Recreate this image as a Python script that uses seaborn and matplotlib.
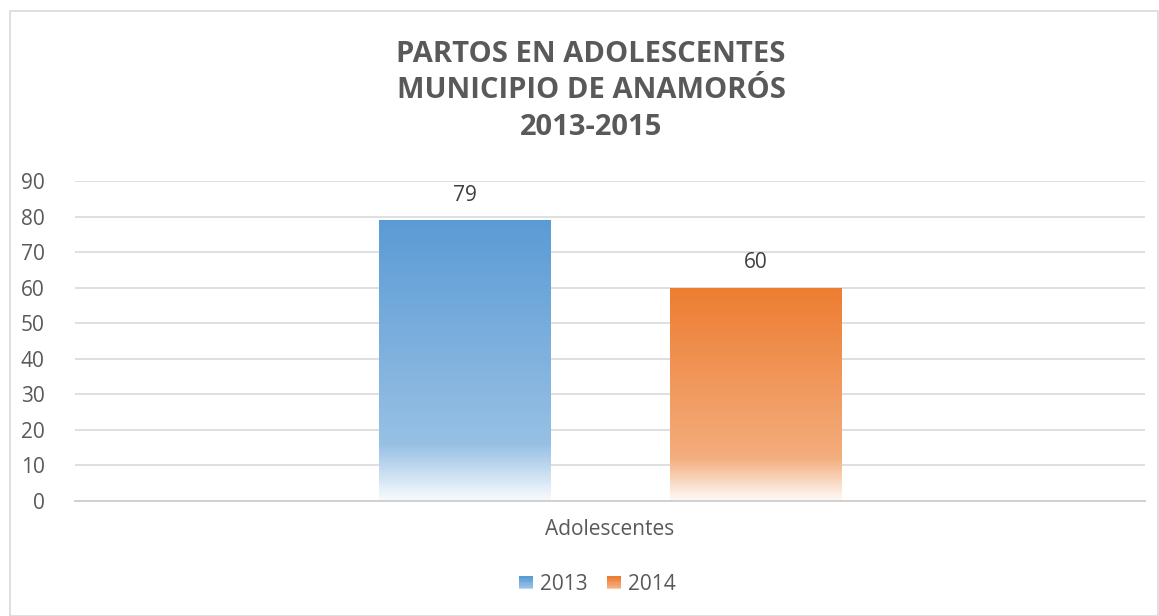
import numpy as np
import pandas as pd
import matplotlib
matplotlib.use("Agg")
import matplotlib.pyplot as plt
import seaborn as sns
from matplotlib.colors import to_rgb
from matplotlib.patches import Rectangle
from matplotlib.legend_handler import HandlerBase

categories = ["Adolescentes"]
years = ["2013", "2014"]
values = [79, 60]
colors = ["#5B9BD5", "#ED7D31"]
title_lines = ["PARTOS EN ADOLESCENTES", "MUNICIPIO DE ANAMORÓS", "2013-2015"]
yticks = list(range(0, 91, 10))

df = pd.DataFrame({"categoria": categories * len(years), "año": years, "valor": values})

sns.set_style("white")
plt.rcParams["font.family"] = ["Open Sans", "DejaVu Sans"]

W, H = 1159, 616
fig = plt.figure(figsize=(W / 100, H / 100), dpi=100)
ax = fig.add_axes([75 / W, 1 - 501 / H, (1145 - 75) / W, (501 - 181) / H])

sns.barplot(data=df, x="categoria", y="valor", hue="año", palette=colors,
            width=0.544, gap=0.41, ax=ax, legend=False)

FS = 15
ax.set_ylim(0, 90)
ax.set_xlim(-0.5, 0.5)
ax.set_yticks(yticks)
ax.yaxis.grid(True, color="#D9D9D9", linewidth=1.2)
ax.set_axisbelow(True)
for s in ["left", "right", "top"]:
    ax.spines[s].set_visible(False)
ax.spines["bottom"].set_color("#D0D0D0")
ax.spines["bottom"].set_linewidth(1.4)
ax.tick_params(axis="y", length=0, pad=22, labelsize=FS, labelcolor="#595959")
ax.tick_params(axis="x", length=0, pad=13, labelsize=FS, labelcolor="#595959")
ax.set_xlabel("")
ax.set_ylabel("")


def grad_array(color, n=256):
    rgb = np.array(to_rgb(color))
    t = np.linspace(0, 1, n)  # 0 bottom, 1 top
    a = np.interp(t, [0, 0.03, 0.2, 1.0], [0.05, 0.12, 0.63, 1.0])
    arr = 1 - a[:, None] * (1 - rgb[None, :])
    return arr[::-1][:, None, :]  # top row first


for patch, col, val in zip(ax.patches, colors, values):
    x0, y0 = patch.get_x(), patch.get_y()
    w, h = patch.get_width(), patch.get_height()
    patch.set_facecolor("none")
    patch.set_edgecolor("none")
    im = ax.imshow(grad_array(col), extent=[x0, x0 + w, y0, y0 + h],
                   aspect="auto", zorder=2, interpolation="bilinear")
    im.set_clip_path(patch)
    ax.annotate(f"{val}", (x0 + w / 2, val), xytext=(0, 18),
                textcoords="offset points", ha="center", va="center",
                fontsize=FS, color="#404040")

ax.set_xlim(-0.5, 0.5)
ax.set_ylim(0, 90)


class GradHandler(HandlerBase):
    def __init__(self, color):
        super().__init__()
        self.color = color

    def create_artists(self, legend, orig_handle, xdescent, ydescent, width,
                       height, fontsize, trans):
        arts = []
        n = 10
        side = height * 0.85
        x = xdescent + (width - side) / 2
        arr = grad_array(self.color, n)[:, 0, :]
        for i in range(n):
            c = arr[n - 1 - i]
            r = Rectangle((x, -ydescent + i * side / n), side, side / n + 0.3,
                          facecolor=c, edgecolor="none", transform=trans)
            arts.append(r)
        return arts


handles = [Rectangle((0, 0), 1, 1, label=y) for y in years]
hmap = {h: GradHandler(c) for h, c in zip(handles, colors)}
leg = fig.legend(handles=handles, labels=years, handler_map=hmap,
                 loc="center", bbox_to_anchor=(597 / W, 1 - 584 / H),
                 ncol=2, frameon=False, fontsize=FS, handlelength=0.75,
                 handleheight=0.8, handletextpad=0.3, columnspacing=0.9)
for t in leg.get_texts():
    t.set_color("#595959")

fig.text(591 / W, 1 - 91 / H, "\n".join(title_lines), ha="center", va="center",
         fontsize=21, fontweight="bold", color="#595959", linespacing=1.33)

fig.patches.append(Rectangle((10 / W, 0), (W - 11) / W, (H - 11) / H,
                             transform=fig.transFigure, facecolor="none",
                             edgecolor="#D9D9D9", linewidth=1.2))

fig.savefig("out.png", dpi=100)
